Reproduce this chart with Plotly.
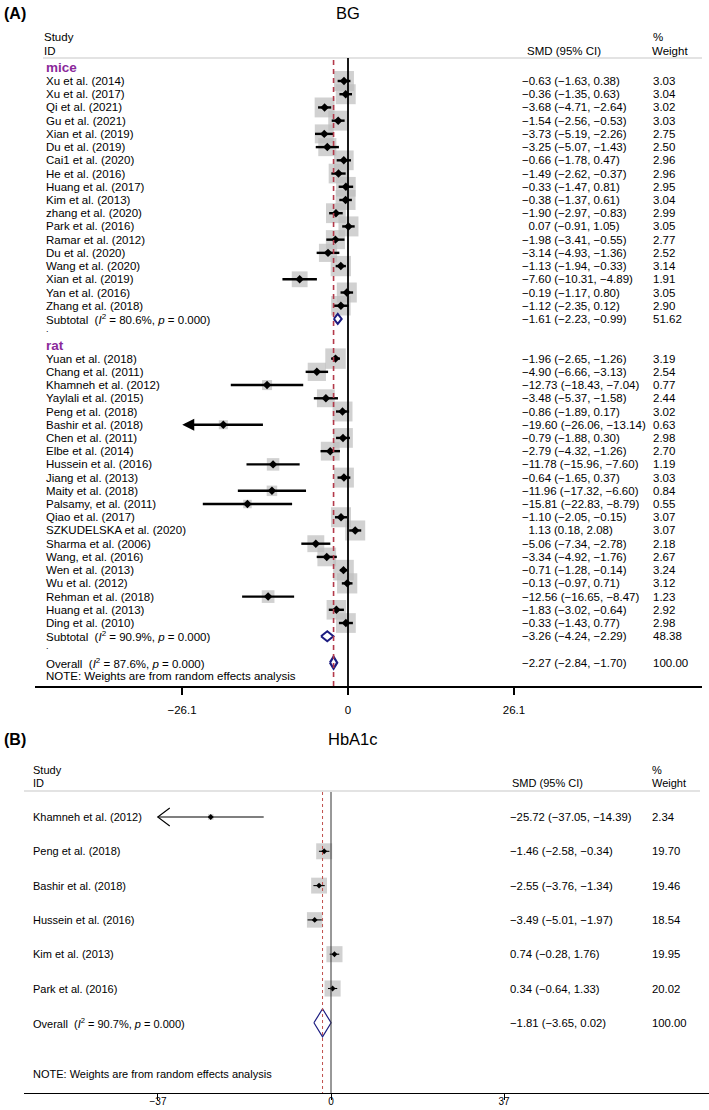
import plotly.graph_objects as go

W, H = 709, 1110
FONT = "Liberation Sans, Arial, sans-serif"
BOX = "#bdbdbd"
NAVY = "#1c1c80"
PURPLE = "#8b2a9b"

# ---------------- (A) BG ----------------
mice_study = ["Xu et al. (2014)", "Xu et al. (2017)", "Qi et al. (2021)", "Gu et al. (2021)",
              "Xian et al. (2019)", "Du et al. (2019)", "Cai1 et al. (2020)", "He et al. (2016)",
              "Huang et al. (2017)", "Kim et al. (2013)", "zhang et al. (2020)", "Park et al. (2016)",
              "Ramar et al. (2012)", "Du et al. (2020)", "Wang et al. (2020)", "Xian et al. (2019)",
              "Yan et al. (2016)", "Zhang et al. (2018)"]
mice_smd = [-0.63, -0.36, -3.68, -1.54, -3.73, -3.25, -0.66, -1.49, -0.33, -0.38, -1.90, 0.07,
            -1.98, -3.14, -1.13, -7.60, -0.19, -1.12]
mice_lo = [-1.63, -1.35, -4.71, -2.56, -5.19, -5.07, -1.78, -2.62, -1.47, -1.37, -2.97, -0.91,
           -3.41, -4.93, -1.94, -10.31, -1.17, -2.35]
mice_hi = [0.38, 0.63, -2.64, -0.53, -2.26, -1.43, 0.47, -0.37, 0.81, 0.61, -0.83, 1.05,
           -0.55, -1.36, -0.33, -4.89, 0.80, 0.12]
mice_wt = [3.03, 3.04, 3.02, 3.03, 2.75, 2.50, 2.96, 2.96, 2.95, 3.04, 2.99, 3.05,
           2.77, 2.52, 3.14, 1.91, 3.05, 2.90]
mice_sub = [-1.61, -2.23, -0.99, 51.62, 80.6]   # est, lo, hi, weight, I2

rat_study = ["Yuan et al. (2018)", "Chang et al. (2011)", "Khamneh et al. (2012)", "Yaylali et al. (2015)",
             "Peng et al. (2018)", "Bashir et al. (2018)", "Chen et al. (2011)", "Elbe et al. (2014)",
             "Hussein et al. (2016)", "Jiang et al. (2013)", "Maity et al. (2018)", "Palsamy, et al. (2011)",
             "Qiao et al. (2017)", "SZKUDELSKA et al. (2020)", "Sharma et al. (2006)", "Wang, et al. (2016)",
             "Wen et al. (2013)", "Wu et al. (2012)", "Rehman et al. (2018)", "Huang et al. (2013)",
             "Ding et al. (2010)"]
rat_smd = [-1.96, -4.90, -12.73, -3.48, -0.86, -19.60, -0.79, -2.79, -11.78, -0.64, -11.96, -15.81,
           -1.10, 1.13, -5.06, -3.34, -0.71, -0.13, -12.56, -1.83, -0.33]
rat_lo = [-2.65, -6.66, -18.43, -5.37, -1.89, -26.06, -1.88, -4.32, -15.96, -1.65, -17.32, -22.83,
          -2.05, 0.18, -7.34, -4.92, -1.28, -0.97, -16.65, -3.02, -1.43]
rat_hi = [-1.26, -3.13, -7.04, -1.58, 0.17, -13.14, 0.30, -1.26, -7.60, 0.37, -6.60, -8.79,
          -0.15, 2.08, -2.78, -1.76, -0.14, 0.71, -8.47, -0.64, 0.77]
rat_wt = [3.19, 2.54, 0.77, 2.44, 3.02, 0.63, 2.98, 2.70, 1.19, 3.03, 0.84, 0.55,
          3.07, 3.07, 2.18, 2.67, 3.24, 3.12, 1.23, 2.92, 2.98]
rat_sub = [-3.26, -4.24, -2.29, 48.38, 90.9]
bg_overall = [-2.27, -2.84, -1.70, 100.00, 87.6]
bg_ticks = [-26.1, 0, 26.1]

# ---------------- (B) HbA1c ----------------
hb_study = ["Khamneh et al. (2012)", "Peng et al. (2018)", "Bashir et al. (2018)",
            "Hussein et al. (2016)", "Kim et al. (2013)", "Park et al. (2016)"]
hb_smd = [-25.72, -1.46, -2.55, -3.49, 0.74, 0.34]
hb_lo = [-37.05, -2.58, -3.76, -5.01, -0.28, -0.64]
hb_hi = [-14.39, -0.34, -1.34, -1.97, 1.76, 1.33]
hb_wt = [2.34, 19.70, 19.46, 18.54, 19.95, 20.02]
hb_overall = [-1.81, -3.65, 0.02, 100.00, 90.7]
hb_ticks = [-37, 0, 37]


def fmt(v):
    s = f"{abs(v):.2f}"
    return "\u2212" + s if v < 0 else s


def ci_text(e, l, h, pad):
    t = f"{fmt(e)} ({fmt(l)}, {fmt(h)})"
    return ("\u2007" + t) if (pad and e >= 0) else t


def tick_text(v):
    return ("\u2212" if v < 0 else "") + f"{abs(v):g}"


fig = go.Figure()


def txt(xp, yp, s, size=11.5, anchor="left", color="black"):
    fig.add_annotation(x=xp / W, y=yp, xref="paper", yref="y", text=s, showarrow=False,
                       xanchor=anchor, yanchor="middle", borderpad=0,
                       font=dict(size=size, color=color, family=FONT))


def add_studies(xa, rows, est, lo, hi, wt, box_k, ci_w, pt_size, clip, scale, chevron):
    fig.add_trace(go.Scatter(x=est, y=rows, xaxis=xa, yaxis="y", mode="markers",
                             marker=dict(symbol="square", size=[box_k * w ** 0.5 for w in wt],
                                         color=BOX, line_width=0),
                             hoverinfo="skip", showlegend=False))
    xs, ys = [], []
    for l, h, y in zip(lo, hi, rows):
        if l < clip and not chevron:
            # filled arrow head for a CI running off the left edge
            fig.add_annotation(x=l, y=y, ax=h, ay=y, xref=xa, yref="y", axref=xa, ayref="y",
                               text="", showarrow=True, arrowhead=2, arrowsize=1.0,
                               arrowwidth=ci_w, arrowcolor="black")
            continue
        xs += [l, h, None]
        ys += [y, y, None]
        if l < clip:
            # open chevron arrow head
            dx = 12 / scale
            xs += [l + dx, l, l + dx, None]
            ys += [y - 9, y, y + 9, None]
    fig.add_trace(go.Scatter(x=xs, y=ys, xaxis=xa, yaxis="y", mode="lines",
                             line=dict(color="black", width=ci_w),
                             hoverinfo="skip", showlegend=False))
    fig.add_trace(go.Scatter(x=est, y=rows, xaxis=xa, yaxis="y", mode="markers",
                             marker=dict(symbol="diamond", size=pt_size, color="black", line_width=0),
                             hoverinfo="skip", showlegend=False))


def add_diamond(xa, vals, y, half, width):
    e, l, h = vals[:3]
    fig.add_trace(go.Scatter(x=[l, e, h, e, l], y=[y, y - half, y, y + half, y],
                             xaxis=xa, yaxis="y", mode="lines",
                             line=dict(color=NAVY, width=width),
                             hoverinfo="skip", showlegend=False))


def het(label, i2):
    return f"{label}\u00a0\u00a0(<i>I</i><sup>2</sup> = {i2:.1f}%, <i>p</i> = 0.000)"


# ---------- panel A layout ----------
A_Y0, A_STEP = 81, 13.22
A_ZERO, A_SCALE = 348, 6.36
A_LEFT, A_RIGHT, A_AXIS = 35, 702, 687
A_LAB, A_CI, A_WT = 45, 521, 652


def a_row(r):
    return A_Y0 + A_STEP * r


mice_rows = [a_row(i) for i in range(len(mice_study))]
r_sub1 = len(mice_study)
r_rat = r_sub1 + 2
rat_rows = [a_row(r_rat + 1 + i) for i in range(len(rat_study))]
r_sub2 = r_rat + 1 + len(rat_study)
r_over = r_sub2 + 2

txt(3, 13, "<b>(A)</b>", size=16)
txt(A_ZERO, 13, "BG", size=16.5, anchor="center")
txt(43, 37, "Study")
txt(43, 51, "ID")
txt(A_CI + 5, 51, "SMD (95% CI)")
txt(A_WT, 37, "%")
txt(A_WT - 1, 51, "Weight")
txt(A_LAB, a_row(-1), "<b>mice</b>", size=13.5, color=PURPLE)
txt(A_LAB, a_row(r_rat), "<b>rat</b>", size=13.5, color=PURPLE)

for names, est, lo, hi, wt, rows in [(mice_study, mice_smd, mice_lo, mice_hi, mice_wt, mice_rows),
                                     (rat_study, rat_smd, rat_lo, rat_hi, rat_wt, rat_rows)]:
    for n, e, l, h, w, y in zip(names, est, lo, hi, wt, rows):
        txt(A_LAB, y, n)
        txt(A_CI, y, ci_text(e, l, h, True))
        txt(A_WT, y, f"{w:.2f}")
    add_studies("x", rows, est, lo, hi, wt, 11.45, 2.4, 6.5, -0.995 * abs(bg_ticks[0]),
                A_SCALE, False)

for r, lab, vals, half, lw in [(r_sub1, "Subtotal", mice_sub, 5, 2),
                               (r_sub2, "Subtotal", rat_sub, 5, 2),
                               (r_over, "Overall", bg_overall, 6, 2.2)]:
    y = a_row(r)
    txt(A_LAB, y, het(lab, vals[4]))
    txt(A_CI, y, ci_text(vals[0], vals[1], vals[2], True))
    txt(A_WT, y, f"{vals[3]:.2f}")
    add_diamond("x", vals, y, half, lw)
txt(A_LAB, a_row(r_sub1 + 1) - 3, ".", size=9)
txt(A_LAB, a_row(r_sub2 + 1) - 3, ".", size=9)
txt(A_LAB, a_row(r_over + 1), "NOTE: Weights are from random effects analysis")

# ---------- panel B layout ----------
B_Y0, B_STEP = 817, 34.3
B_ZERO, B_SCALE = 331, 4.676
B_LEFT, B_RIGHT, B_AXIS = 24, 709, 1093
B_LAB, B_CI, B_WT = 32, 509, 651

hb_rows = [B_Y0 + B_STEP * i for i in range(len(hb_study))]
y_hb_over = B_Y0 + B_STEP * len(hb_study)

txt(3, 739, "<b>(B)</b>", size=16)
txt(353, 739, "HbA1c", size=16.5, anchor="center")
txt(B_LAB, 770, "Study", size=11)
txt(B_LAB, 783, "ID", size=11)
txt(B_CI + 2, 783, "SMD (95% CI)", size=11)
txt(B_WT, 770, "%", size=11)
txt(B_WT, 783, "Weight", size=11)
for n, e, l, h, w, y in zip(hb_study, hb_smd, hb_lo, hb_hi, hb_wt, hb_rows):
    txt(B_LAB, y, n, size=11)
    txt(B_CI, y, ci_text(e, l, h, False), size=11.3)
    txt(B_WT, y, f"{w:.2f}", size=11.3)
add_studies("x2", hb_rows, hb_smd, hb_lo, hb_hi, hb_wt, 3.6, 1.1, 4.5, -0.995 * abs(hb_ticks[0]),
            B_SCALE, True)
txt(B_LAB, y_hb_over, het("Overall", hb_overall[4]), size=11)
txt(B_CI, y_hb_over, ci_text(*hb_overall[:3], False), size=11.3)
txt(B_WT, y_hb_over, f"{hb_overall[3]:.2f}", size=11.3)
add_diamond("x2", hb_overall, y_hb_over, 14, 1.2)
txt(B_LAB, 1074, "NOTE: Weights are from random effects analysis", size=11)

# ---------- reference lines ----------
shapes = [
    dict(type="line", xref="paper", yref="y", x0=43 / W, x1=A_RIGHT / W, y0=58, y1=58,
         line=dict(color="#c8c8c8", width=1.2)),
    dict(type="line", xref="x", yref="y", x0=0, x1=0, y0=58, y1=A_AXIS,
         line=dict(color="black", width=1.8)),
    dict(type="line", xref="x", yref="y", x0=bg_overall[0], x1=bg_overall[0], y0=60, y1=A_AXIS,
         line=dict(color="#b3394a", width=1.6, dash="5px,4px")),
    dict(type="line", xref="paper", yref="y", x0=B_LEFT / W, x1=700 / W, y0=791, y1=791,
         line=dict(color="#c8c8c8", width=1.2)),
    dict(type="line", xref="x2", yref="y", x0=0, x1=0, y0=792, y1=B_AXIS,
         line=dict(color="#333333", width=1)),
    dict(type="line", xref="x2", yref="y", x0=hb_overall[0], x1=hb_overall[0], y0=792, y1=B_AXIS,
         line=dict(color="#c0504d", width=1, dash="3px,3px")),
]

fig.update_layout(
    width=W, height=H, margin=dict(l=0, r=0, t=0, b=0),
    paper_bgcolor="white", plot_bgcolor="rgba(0,0,0,0)", showlegend=False,
    shapes=shapes,
    yaxis=dict(range=[H, 0], domain=[0, 1], visible=False),
    xaxis=dict(domain=[A_LEFT / W, A_RIGHT / W],
               range=[(A_LEFT - A_ZERO) / A_SCALE, (A_RIGHT - A_ZERO) / A_SCALE],
               anchor="free", position=1 - A_AXIS / H, showline=True, linecolor="black",
               linewidth=2, ticks="outside", ticklen=7, tickwidth=2, tickcolor="black",
               tickvals=bg_ticks, ticktext=[tick_text(v) for v in bg_ticks],
               tickfont=dict(size=11.5, color="black", family=FONT), ticklabelstandoff=5,
               showgrid=False, zeroline=False, automargin=False),
    xaxis2=dict(domain=[B_LEFT / W, B_RIGHT / W],
                range=[(B_LEFT - B_ZERO) / B_SCALE, (B_RIGHT - B_ZERO) / B_SCALE],
                anchor="free", position=1 - B_AXIS / H, showline=True, linecolor="black",
                linewidth=1.2, ticks="outside", ticklen=6, tickwidth=1, tickcolor="black",
                tickvals=hb_ticks, ticktext=[tick_text(v) for v in hb_ticks],
                tickfont=dict(size=10, color="black", family=FONT), ticklabelstandoff=-7,
                showgrid=False, zeroline=False, automargin=False),
)

fig.write_html("out.html", config={"displayModeBar": False},
               post_script="document.body.style.margin = '0';")
